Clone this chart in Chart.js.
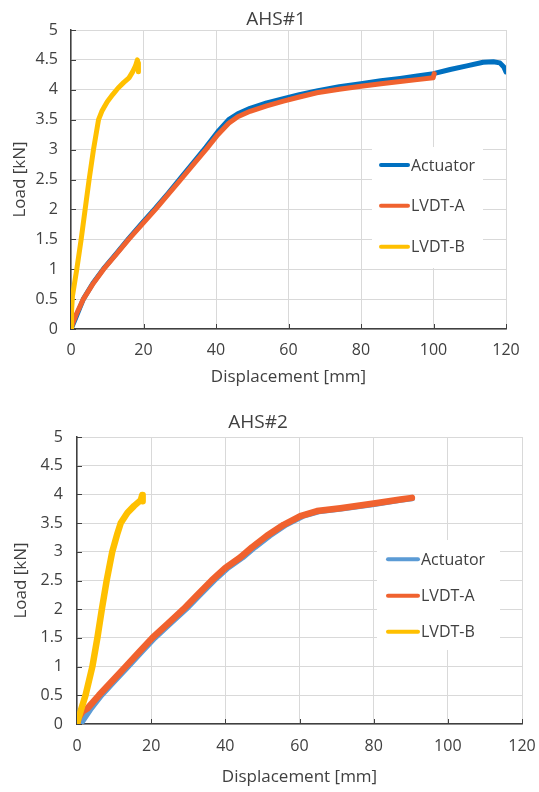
<!DOCTYPE html>
<html>
<head>
<meta charset="utf-8">
<script src="https://cdn.jsdelivr.net/npm/chart.js@4.4.1/dist/chart.umd.min.js"></script>
<style>
  body { margin: 0; background: #fff; }
  canvas { display: block; }
</style>
</head>
<body>
<canvas id="ahs1" width="539" height="395"></canvas>
<canvas id="ahs2" width="539" height="397"></canvas>
<script>
// axis ticks
const dispTicks = ['0', '20', '40', '60', '80', '100', '120'];
const loadTicks = ['0', '0.5', '1', '1.5', '2', '2.5', '3', '3.5', '4', '4.5', '5'];
const seriesNames = ['Actuator', 'LVDT-A', 'LVDT-B'];

// AHS#1 (displacement mm / load kN)
const ahs1ActuatorDisp = [0, 1, 3.4, 6, 9, 12.5, 15.9, 19.6, 23.3, 26.8, 30.3, 33.7, 37.2, 40.5, 43.5, 46, 49.4, 54, 58.6, 63, 67.8, 74, 80, 85.5, 90.8, 95.5, 100, 104.6, 109.2, 113.7, 116.5, 118.3, 119.4, 120];
const ahs1ActuatorLoad = [0, 0.14, 0.5, 0.76, 1.01, 1.26, 1.51, 1.77, 2.02, 2.27, 2.53, 2.78, 3.04, 3.3, 3.5, 3.6, 3.69, 3.78, 3.85, 3.92, 3.98, 4.05, 4.1, 4.15, 4.19, 4.23, 4.27, 4.34, 4.4, 4.46, 4.47, 4.45, 4.38, 4.3];
const ahs1LvdtADisp = [0, 0.5, 1.5, 3.4, 6, 9, 12.5, 15.9, 19.6, 23.3, 26.8, 30.3, 33.7, 37.2, 40.5, 43.5, 46, 49.4, 54, 58.6, 63, 67.8, 74, 80, 85.5, 90.8, 95.5, 99.9, 100.2];
const ahs1LvdtALoad = [0, 0.1, 0.25, 0.5, 0.75, 1.0, 1.25, 1.5, 1.75, 2.0, 2.25, 2.5, 2.75, 3.0, 3.25, 3.44, 3.55, 3.64, 3.73, 3.81, 3.88, 3.95, 4.01, 4.06, 4.1, 4.14, 4.17, 4.2, 4.27];
const ahs1LvdtBDisp = [0, 0.15, 0.4, 1.6, 2.8, 3.9, 5.0, 6.2, 7.6, 8.5, 10, 11.5, 13, 14.5, 16, 17, 17.8, 18.3, 18.5, 18.6];
const ahs1LvdtBLoad = [0, 0.3, 0.55, 1.0, 1.5, 2.0, 2.5, 3.0, 3.5, 3.64, 3.8, 3.92, 4.03, 4.12, 4.2, 4.3, 4.4, 4.5, 4.45, 4.3];

// AHS#2
const ahs2ActuatorDisp = [1.0, 3.6, 6.6, 10.2, 13.8, 17.4, 21.0, 25.2, 29.4, 33.2, 37.0, 40.7, 44.7, 48.0, 52.0, 56.4, 60.9, 65.2, 71.4, 80.2, 87.3, 90.4];
const ahs2ActuatorLoad = [0, 0.25, 0.5, 0.75, 1.0, 1.25, 1.5, 1.75, 2.0, 2.25, 2.5, 2.72, 2.9, 3.08, 3.28, 3.47, 3.62, 3.7, 3.75, 3.83, 3.9, 3.93];
const ahs2LvdtADisp = [0, 0.5, 1.5, 2.8, 5.9, 9.5, 13.1, 16.7, 20.3, 24.5, 28.7, 32.5, 36.3, 40, 44, 47.2, 51.2, 55.7, 60.2, 64.7, 71, 80, 87.2, 90.3];
const ahs2LvdtALoad = [0, 0.12, 0.22, 0.27, 0.5, 0.75, 1.0, 1.25, 1.5, 1.75, 2.0, 2.25, 2.5, 2.72, 2.9, 3.08, 3.28, 3.47, 3.62, 3.71, 3.76, 3.84, 3.91, 3.94];
const ahs2LvdtBDisp = [0, 0.4, 1.1, 2.3, 4.15, 5.5, 6.7, 8.0, 9.5, 10.9, 11.8, 13.6, 15.4, 17.2, 17.6, 17.7];
const ahs2LvdtBLoad = [0, 0.1, 0.25, 0.5, 1.0, 1.5, 2.0, 2.5, 3.0, 3.32, 3.5, 3.68, 3.8, 3.9, 3.99, 3.88];

const textColor = '#404040';
const fontFamily = "'Open Sans', 'Noto Sans', sans-serif";

const toPoints = (xs, ys) => xs.map((x, i) => ({ x: x, y: ys[i] }));

// small tick marks drawn inward from both axes
const insideTicks = {
  id: 'insideTicks',
  beforeDatasetsDraw(chart) {
    const { ctx, chartArea, scales } = chart;
    ctx.save();
    ctx.strokeStyle = textColor;
    ctx.lineWidth = 1;
    ctx.beginPath();
    scales.x.ticks.forEach(t => {
      const px = Math.round(scales.x.getPixelForValue(t.value)) + 0.5;
      ctx.moveTo(px, chartArea.bottom);
      ctx.lineTo(px, chartArea.bottom - 5);
    });
    scales.y.ticks.forEach(t => {
      const py = Math.round(scales.y.getPixelForValue(t.value)) + 0.5;
      ctx.moveTo(chartArea.left, py);
      ctx.lineTo(chartArea.left + 5, py);
    });
    ctx.stroke();
    ctx.restore();
  }
};

// title + boxed legend sitting inside the plot
const titleLegend = {
  id: 'titleLegend',
  afterDraw(chart, args, opts) {
    const ctx = chart.ctx;
    ctx.save();
    ctx.fillStyle = textColor;
    ctx.font = '19px ' + fontFamily;
    ctx.textAlign = 'center';
    ctx.textBaseline = 'middle';
    ctx.fillText(opts.title, opts.titleX, opts.titleY);

    const b = opts.box;
    ctx.fillStyle = '#ffffff';
    ctx.fillRect(b.x, b.y, b.w, b.h);
    ctx.font = '16px ' + fontFamily;
    ctx.textAlign = 'left';
    chart.data.datasets.forEach((ds, i) => {
      const y = opts.rows[i];
      ctx.strokeStyle = ds.borderColor;
      ctx.lineWidth = 4;
      ctx.lineCap = 'round';
      ctx.beginPath();
      ctx.moveTo(opts.lineX[0], y);
      ctx.lineTo(opts.lineX[1], y);
      ctx.stroke();
      ctx.fillStyle = textColor;
      ctx.fillText(ds.label, opts.textX, y + 1);
    });
    ctx.restore();
  }
};

function buildChart(id, o) {
  const tickFont = { family: fontFamily, size: 16 };
  const titleFont = { family: fontFamily, size: 17 };
  new Chart(document.getElementById(id), {
    type: 'scatter',
    data: {
      datasets: [
        { label: seriesNames[0], data: toPoints(o.actDisp, o.actLoad), borderColor: o.actColor, borderWidth: o.actLw, order: 2 },
        { label: seriesNames[1], data: toPoints(o.aDisp, o.aLoad), borderColor: '#F0622F', borderWidth: o.lw, order: 1 },
        { label: seriesNames[2], data: toPoints(o.bDisp, o.bLoad), borderColor: '#FFC000', borderWidth: o.lw, order: 0 }
      ]
    },
    options: {
      responsive: false,
      animation: false,
      devicePixelRatio: 1,
      showLine: true,
      elements: { point: { radius: 0 }, line: { tension: 0, borderJoinStyle: 'round', borderCapStyle: 'round' } },
      layout: { padding: { top: o.plotTop, right: 539 - o.plotRight, left: 0, bottom: 0 } },
      scales: {
        x: {
          type: 'linear', min: 0, max: 120,
          ticks: { stepSize: 20, padding: o.xTickPad, color: textColor, font: tickFont, maxRotation: 0, autoSkip: false,
                   callback: (v, i) => dispTicks[i] },
          grid: { color: '#D9D9D9', drawTicks: false },
          border: { color: textColor, width: 1.5 },
          title: { display: true, text: 'Displacement [mm]', color: textColor, font: titleFont, padding: { top: 0, bottom: o.xTitlePad } },
          afterFit: s => { s.height = o.height - o.plotBottom; s.paddingLeft = 0; s.paddingRight = 0; }
        },
        y: {
          type: 'linear', min: 0, max: 5,
          ticks: { stepSize: 0.5, padding: o.yTickPad, color: textColor, font: tickFont, autoSkip: false,
                   callback: (v, i) => loadTicks[i] },
          grid: { color: '#D9D9D9', drawTicks: false },
          border: { color: textColor, width: 1.5 },
          title: { display: true, text: 'Load [kN]', color: textColor, font: titleFont, padding: { top: o.yTitlePad, bottom: 0 } },
          afterFit: s => { s.width = o.plotLeft; s.paddingTop = 0; s.paddingBottom = 0; }
        }
      },
      plugins: {
        legend: { display: false },
        tooltip: { enabled: false },
        titleLegend: o.deco
      }
    },
    plugins: [insideTicks, titleLegend]
  });
}

buildChart('ahs1', {
  height: 395, plotTop: 30, plotBottom: 329, plotLeft: 71, plotRight: 506,
  xTickPad: 12, yTickPad: 13, xTitlePad: 7.8, yTitlePad: 9.8, lw: 5, actLw: 5,
  actColor: '#0070C0',
  actDisp: ahs1ActuatorDisp, actLoad: ahs1ActuatorLoad,
  aDisp: ahs1LvdtADisp, aLoad: ahs1LvdtALoad,
  bDisp: ahs1LvdtBDisp, bLoad: ahs1LvdtBLoad,
  deco: { title: 'AHS#1', titleX: 276, titleY: 20,
          box: { x: 372, y: 147, w: 111, h: 121 },
          rows: [165, 205.7, 246.7], lineX: [381, 408], textX: 411 }
});

buildChart('ahs2', {
  height: 397, plotTop: 42, plotBottom: 329, plotLeft: 77, plotRight: 522,
  xTickPad: 13, yTickPad: 14, xTitlePad: 4.8, yTitlePad: 10.8, lw: 6.5, actLw: 5.5,
  actColor: '#5B9BD5',
  actDisp: ahs2ActuatorDisp, actLoad: ahs2ActuatorLoad,
  aDisp: ahs2LvdtADisp, aLoad: ahs2LvdtALoad,
  bDisp: ahs2LvdtBDisp, bLoad: ahs2LvdtBLoad,
  deco: { title: 'AHS#2', titleX: 258, titleY: 28,
          box: { x: 377, y: 145, w: 123, h: 110 },
          rows: [164.3, 200.7, 236.7], lineX: [388, 418], textX: 421 }
});
</script>
</body>
</html>
